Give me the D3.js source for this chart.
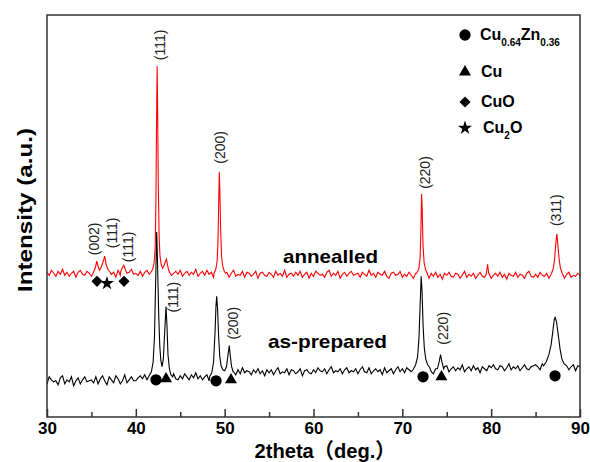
<!DOCTYPE html>
<html>
<head>
<meta charset="utf-8">
<script src="https://cdn.jsdelivr.net/npm/d3@7"></script>
<style>
  body { margin: 0; background: #fff; }
  text { font-family: "Liberation Sans", Arial, "Noto Sans CJK SC", sans-serif; }
</style>
</head>
<body>
<div id="chart"></div>
<script>
// scan grid: 30 -> 90 deg, 0.25 deg per sample (intensity in a.u.)
const thetaStart = 30, thetaStep = 0.25;

const annealedGrid = [
  144,141,146,143,140,145,142,147,141,144,140,143,145,139,144,146,142,141,145,143,
  140,144,147,142,141,146,140,143,145,142,144,139,146,141,143,145,140,144,147,142,
  143,141,145,140,144,146,142,139,145,143,141,146,144,140,142,147,141,143,145,142,
  146,140,143,145,141,144,142,147,140,143,145,141,146,142,144,139,145,143,141,146,
  141,144,139,143,146,140,142,141,145,139,144,143,140,142,145,138,143,144,141,140,
  144,142,139,145,141,143,140,146,139,142,143,140,144,141,145,139,142,144,138,143,
  140,145,143,141,142,139,144,146,140,143,141,145,138,142,144,140,143,145,141,142,
  143,139,144,142,140,146,141,143,139,144,142,141,145,140,138,143,144,141,142,145,
  139,142,140,144,141,138,143,139,145,140,142,141,138,143,140,144,139,142,137,143,
  141,144,140,139,143,142,138,141,145,139,142,140,143,138,141,144,140,139,142,143,
  138,141,143,140,144,139,142,137,143,141,140,144,139,142,141,138,143,145,140,139,
  142,139,144,141,140,143,138,142,145,139,141,140,143,138,142,144,139,141,140,143,
  141
];

const preparedGrid = [
  33,40,37,35,36,32,39,41,33,37,35,40,31,36,39,33,37,40,35,36,
  37,34,40,33,38,41,36,32,40,37,34,41,38,33,36,42,34,37,40,36,
  36,39,41,38,42,37,40,35,41,39,38,42,37,40,39,36,41,43,38,37,
  41,38,43,40,37,42,39,44,38,41,37,40,42,36,41,43,39,38,42,40,
  43,46,44,48,45,42,47,43,49,44,46,45,42,47,44,48,43,46,41,47,
  44,47,42,46,49,43,45,44,48,42,47,46,43,45,48,41,46,47,44,43,
  47,44,49,46,45,48,43,47,50,44,46,45,48,43,47,49,44,46,45,48,
  43,47,50,45,44,49,43,46,48,45,47,42,49,44,46,48,43,47,50,45,
  48,44,49,47,45,51,46,48,44,49,47,46,50,45,43,48,49,46,47,50,
  51,45,48,50,46,49,47,52,45,48,50,46,51,47,49,44,50,48,46,51,
  49,52,48,47,51,50,46,49,53,47,50,48,51,46,49,52,48,47,50,51,
  52,50,47,53,49,51,48,54,47,50,51,48,52,49,53,47,50,52,46,51,
  50
];

// [2theta, intensity] points read across each reflection
const annealedPeaks = [
  [[35.25,144],[35.45,149],[35.6,155],[35.75,150],[35.9,146],[36.1,149],[36.3,154],[36.5,160],[36.65,152],[36.85,147],[37.1,144]],
  [[38.3,145],[38.5,149],[38.65,151],[38.8,147],[39.0,143]],
  [[41.7,144],[41.9,147],[42.05,153],[42.18,168],[42.26,215],[42.33,290],[42.4,349],[42.46,300],[42.53,230],[42.62,180],[42.72,160],[42.85,152],[43.0,148],[43.15,150],[43.3,154],[43.45,157],[43.55,152],[43.7,146],[43.85,143]],
  [[48.8,143],[49.0,147],[49.15,155],[49.25,175],[49.33,215],[49.4,244],[49.47,220],[49.55,185],[49.65,160],[49.78,150],[49.95,145],[50.1,143]],
  [[71.6,143],[71.85,147],[72.0,158],[72.1,190],[72.17,222],[72.24,205],[72.33,170],[72.45,154],[72.6,147],[72.8,143]],
  [[79.45,142],[79.6,152],[79.72,143]],
  [[86.8,143],[87.0,148],[87.15,158],[87.3,175],[87.4,182],[87.5,172],[87.65,157],[87.8,148],[88.0,143]]
];

const preparedPeaks = [
  [[41.5,41],[41.75,45],[41.95,55],[42.1,80],[42.22,130],[42.35,184],[42.45,150],[42.58,100],[42.7,70],[42.82,56],[42.95,50],[43.1,58],[43.25,85],[43.4,110],[43.5,92],[43.62,62],[43.78,48],[43.95,42],[44.15,40]],
  [[48.3,40],[48.55,44],[48.75,55],[48.92,85],[49.02,110],[49.1,120],[49.2,108],[49.32,80],[49.45,60],[49.6,51],[49.8,47],[50.0,46],[50.2,50],[50.38,62],[50.52,71],[50.62,62],[50.78,50],[50.95,45]],
  [[71.2,47],[71.5,52],[71.72,60],[71.88,80],[72.0,110],[72.12,140],[72.22,125],[72.34,90],[72.48,68],[72.65,57],[72.85,52],[73.1,49]],
  [[73.95,48],[74.15,55],[74.3,62],[74.45,55],[74.65,48]],
  [[85.9,51],[86.2,55],[86.5,62],[86.75,72],[86.95,86],[87.1,97],[87.2,99],[87.35,95],[87.55,82],[87.75,68],[87.95,58],[88.2,53],[88.5,51]]
];

// phase markers [2theta, intensity, phase]
const annealedMarks = [[35.63,135,'CuO'],[36.75,133,'Cu2O'],[38.67,135,'CuO']];
const preparedMarks = [
  [42.27,37,'CuZn'],[43.4,38,'Cu'],[49.03,36,'CuZn'],[50.71,37,'Cu'],
  [72.33,40,'CuZn'],[74.4,40,'Cu'],[87.19,41,'CuZn']
];

// hkl labels [2theta, intensity at label foot, text]
const annealedLabels = [
  [35.29,161,'(002)'],[37.32,168,'(111)'],[39.12,154,'(111)'],
  [42.72,355,'(111)'],[49.48,252,'(200)'],[72.55,227,'(220)'],[87.3,190,'(311)']
];
const preparedLabels = [[44.18,104,'(111)'],[50.94,77,'(200)'],[74.58,72,'(220)']];

const xTicks = [30, 40, 50, 60, 70, 80, 90];
const xMinorTicks = [35, 45, 55, 65, 75, 85];

const legendPhases = ['CuZn', 'Cu', 'CuO', 'Cu2O'];

const W = 590, H = 462;
const margin = { top: 15, right: 10, bottom: 45, left: 47 };

const svg = d3.select('#chart').append('svg')
  .attr('width', W).attr('height', H);

const x = d3.scaleLinear().domain([30, 90]).range([margin.left, W - margin.right]);
const y = d3.scaleLinear().domain([0, 400]).range([H - margin.bottom, margin.top]);

const symbolType = {
  CuZn: d3.symbolCircle, Cu: d3.symbolTriangle, CuO: d3.symbolSquare, Cu2O: d3.symbolStar
};
const symbolSize = { CuZn: 100, Cu: 62, CuO: 62, Cu2O: 62 };

function buildSeries(grid, peaks) {
  const pts = grid.map((v, i) => [thetaStart + i * thetaStep, v])
    .filter(p => !peaks.some(pk => p[0] >= pk[0][0] && p[0] <= pk[pk.length - 1][0]));
  peaks.forEach(pk => pts.push(...pk));
  return pts.sort((a, b) => a[0] - b[0]);
}

const line = d3.line().x(d => x(d[0])).y(d => y(d[1]));

// curves
svg.append('path')
  .datum(buildSeries(preparedGrid, preparedPeaks))
  .attr('fill', 'none').attr('stroke', '#000').attr('stroke-width', 1.1)
  .attr('d', line);

svg.append('path')
  .datum(buildSeries(annealedGrid, annealedPeaks))
  .attr('fill', 'none').attr('stroke', '#ff0000').attr('stroke-width', 1.1)
  .attr('d', line);

// frame
svg.append('rect')
  .attr('x', x(30)).attr('y', y(400))
  .attr('width', x(90) - x(30)).attr('height', y(0) - y(400))
  .attr('fill', 'none').attr('stroke', '#333').attr('stroke-width', 1.5);

// bottom axis, ticks pointing inward
const xAxis = svg.append('g')
  .attr('transform', `translate(0,${y(0)})`)
  .call(d3.axisBottom(x).tickValues(xTicks).tickFormat(d3.format('d'))
    .tickSizeInner(-8).tickSizeOuter(0).tickPadding(5));
xAxis.select('.domain').remove();
xAxis.selectAll('line').attr('stroke', '#333').attr('stroke-width', 1.5);
xAxis.selectAll('text')
  .attr('font-size', 17).attr('font-weight', 'bold').attr('fill', '#000')
  .attr('font-family', '"Liberation Sans", Arial, sans-serif');

const xMinor = svg.append('g')
  .attr('transform', `translate(0,${y(0)})`)
  .call(d3.axisBottom(x).tickValues(xMinorTicks).tickFormat('').tickSizeInner(-5).tickSizeOuter(0));
xMinor.select('.domain').remove();
xMinor.selectAll('line').attr('stroke', '#333').attr('stroke-width', 1.5);

// axis titles
svg.append('text')
  .attr('x', 325).attr('y', 458)
  .attr('text-anchor', 'middle')
  .attr('font-size', 21).attr('font-weight', 'bold')
  .attr('textLength', 141).attr('lengthAdjust', 'spacingAndGlyphs')
  .text('2theta（deg.）');

svg.append('text')
  .attr('transform', 'translate(32,210) rotate(-90)')
  .attr('text-anchor', 'middle')
  .attr('font-size', 21).attr('font-weight', 'bold')
  .attr('textLength', 164).attr('lengthAdjust', 'spacingAndGlyphs')
  .text('Intensity (a.u.)');

// hkl labels
function drawLabels(rows) {
  svg.append('g').selectAll('text')
    .data(rows).join('text')
    .attr('transform', d => `translate(${x(d[0])},${y(d[1])}) rotate(-90)`)
    .attr('dy', '0.35em')
    .attr('font-size', 14).attr('fill', '#222')
    .text(d => d[2]);
}
drawLabels(annealedLabels);
drawLabels(preparedLabels);

// phase markers
function drawMarks(rows) {
  svg.append('g').selectAll('path')
    .data(rows).join('path')
    .attr('transform', d => `translate(${x(d[0])},${y(d[1])})` + (d[2] === 'CuO' ? ' rotate(45)' : ''))
    .attr('d', d => d3.symbol().type(symbolType[d[2]]).size(symbolSize[d[2]])())
    .attr('fill', '#000');
}
drawMarks(annealedMarks);
drawMarks(preparedMarks);

// sample names
svg.append('text')
  .attr('x', 283).attr('y', 263)
  .attr('font-size', 19).attr('font-weight', 'bold')
  .attr('textLength', 95).attr('lengthAdjust', 'spacingAndGlyphs')
  .text('annealled');

svg.append('text')
  .attr('x', 268).attr('y', 348)
  .attr('font-size', 19).attr('font-weight', 'bold')
  .attr('textLength', 119).attr('lengthAdjust', 'spacingAndGlyphs')
  .text('as-prepared');

// legend
const legendY = { CuZn: 35, Cu: 72, CuO: 102, Cu2O: 128 };
const legend = svg.append('g');
legend.selectAll('path')
  .data(legendPhases).join('path')
  .attr('transform', d => `translate(465,${legendY[d]})` + (d === 'CuO' ? ' rotate(45)' : ''))
  .attr('d', d => d3.symbol().type(symbolType[d]).size(symbolSize[d])())
  .attr('fill', '#000');

function legendText(yy, xx, parts) {
  const t = legend.append('text')
    .attr('x', xx).attr('y', yy)
    .attr('font-weight', 'bold').attr('font-size', 16);
  parts.forEach(p => {
    t.append('tspan')
      .attr('font-size', p[1] ? 10 : 16)
      .attr('dy', p[1] ? 6 : (t.selectAll('tspan').size() > 1 ? -6 : 0))
      .text(p[0]);
  });
}
legendText(legendY.CuZn + 5, 480, [['Cu', 0], ['0.64', 1], ['Zn', 0], ['0.36', 1]]);
legendText(legendY.Cu + 5, 481, [['Cu', 0]]);
legendText(legendY.CuO + 5, 481, [['CuO', 0]]);
legendText(legendY.Cu2O + 5, 483, [['Cu', 0], ['2', 1], ['O', 0]]);
</script>
</body>
</html>
